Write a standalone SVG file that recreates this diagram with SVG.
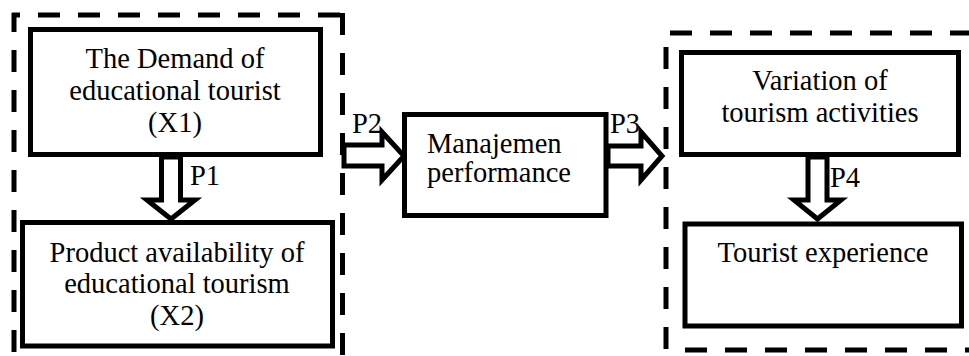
<svg xmlns="http://www.w3.org/2000/svg" width="969" height="356" viewBox="0 0 969 356">
<style>
.dash{fill:none;stroke:#000;stroke-width:5;stroke-dasharray:22 18}
.box{fill:#fff;stroke:#000;stroke-width:5}
.arr{fill:#fff;stroke:#000;stroke-width:5;stroke-linejoin:miter}
text{font-family:"Liberation Serif","Times New Roman",serif;font-size:28.5px;fill:#000}
.c{text-anchor:middle}
</style>
<rect width="969" height="356" fill="#fff"/>
<g id="group-left">
<line class="dash" x1="12" y1="15" x2="345" y2="15" stroke-dashoffset="14"/>
<line class="dash" x1="14" y1="13" x2="14" y2="360" stroke-dashoffset="3"/>
<line class="dash" x1="342.5" y1="13" x2="342.5" y2="360"/>
</g>
<g id="group-right">
<line class="dash" x1="670" y1="33" x2="975" y2="33"/>
<line class="dash" x1="666" y1="47" x2="666" y2="356"/>
<line class="dash" x1="685" y1="350" x2="975" y2="350"/>
</g>
<g id="connectors">
<polygon class="arr" points="161.5,157 180.5,157 180.5,200 195,200 171,219 147,200 161.5,200"/>
<polygon class="arr" points="344,145 382,145 382,132 404,156 382,180 382,166 344,166"/>
<polygon class="arr" points="608,146 641,146 641,132 662,156 641,180 641,166 608,166"/>
<polygon class="arr" points="808,157 827,157 827,200 841,200 817.5,219 794,200 808,200"/>
<text x="190" y="185">P1</text>
<text x="352" y="133">P2</text>
<text x="610" y="133">P3</text>
<text x="830" y="187">P4</text>
</g>
<g id="x1">
<rect class="box" x="30.5" y="29.5" width="290" height="125"/>
<text class="c" x="175" y="68">The Demand of</text>
<text class="c" x="175" y="100">educational tourist</text>
<text class="c" x="175" y="132">(X1)</text>
</g>
<g id="x2">
<rect class="box" x="22.5" y="222.5" width="310" height="123.5"/>
<text class="c" x="177" y="262">Product availability of</text>
<text class="c" x="177" y="293">educational tourism</text>
<text class="c" x="177" y="325">(X2)</text>
</g>
<g id="manajemen">
<rect class="box" x="404.5" y="114.5" width="201.5" height="101"/>
<text x="427" y="153">Manajemen</text>
<text x="427" y="182">performance</text>
</g>
<g id="variation">
<rect class="box" x="681.5" y="52.5" width="277" height="102"/>
<text class="c" x="820" y="90">Variation of</text>
<text class="c" x="820" y="122">tourism activities</text>
</g>
<g id="experience">
<rect class="box" x="685" y="224" width="276.5" height="102"/>
<text class="c" x="823" y="262">Tourist experience</text>
</g>
</svg>
